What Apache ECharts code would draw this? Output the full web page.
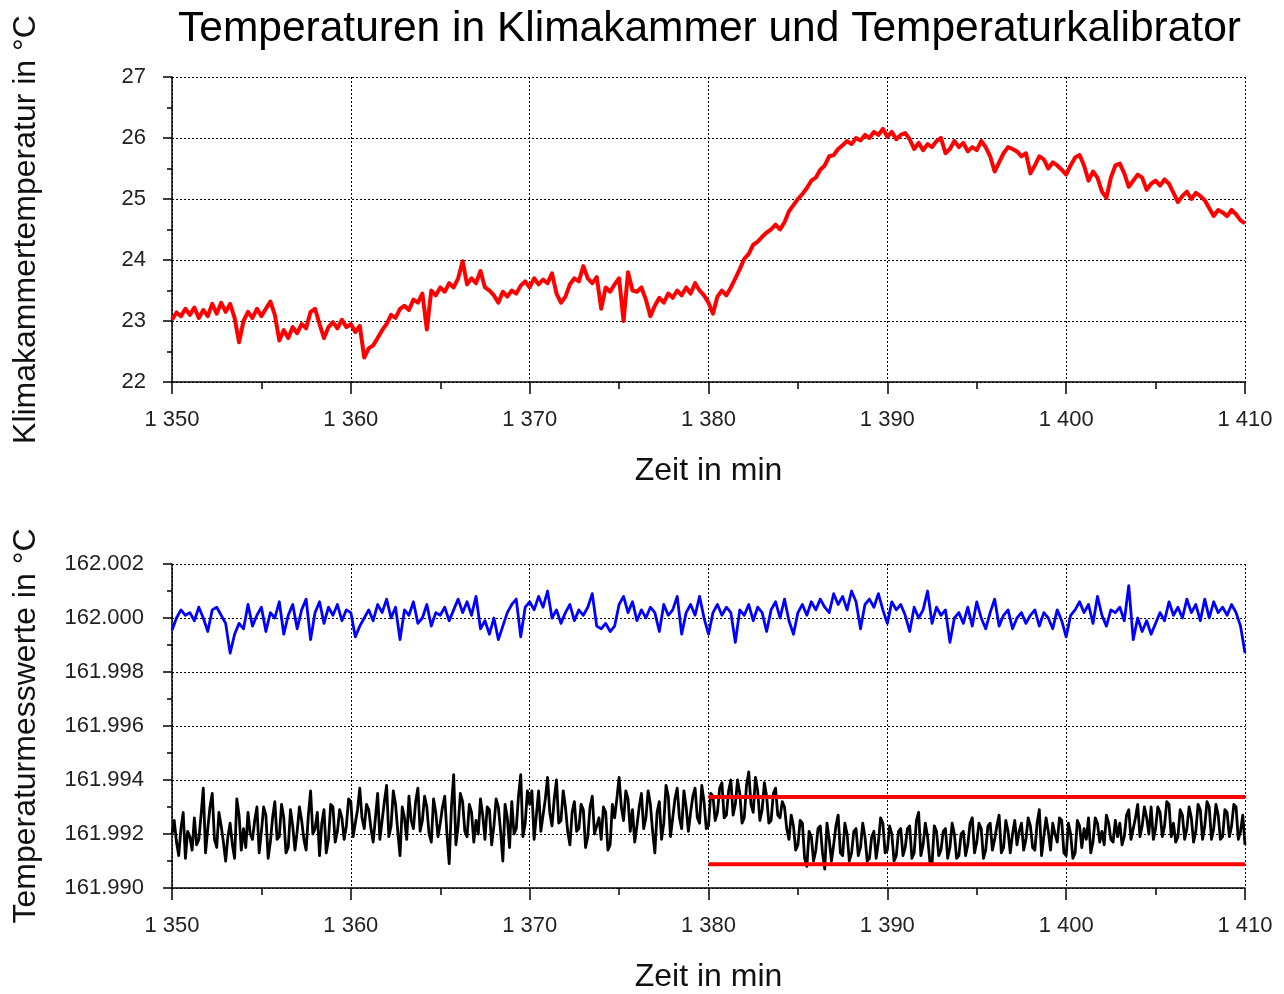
<!DOCTYPE html>
<html>
<head>
<meta charset="utf-8">
<script src="https://cdn.jsdelivr.net/npm/echarts@6/dist/echarts.min.js"></script>
<style>html,body{margin:0;padding:0;background:#fff}#c{width:1284px;height:994px}</style>
</head>
<body>
<div id="c"></div>
<script>
const tStart = 1350;
const tStep = 0.25;
const xTicks = [1350, 1360, 1370, 1380, 1390, 1400, 1410];
const yTopTicks = [22, 23, 24, 25, 26, 27];
const yBottomTicks = [161.990, 161.992, 161.994, 161.996, 161.998, 162.000, 162.002];

// Klimakammer temperature, samples every 0.25 min from 1350
const klima = [
23.02,23.14,23.08,23.2, 23.1,23.22,23.05,23.18, 23.08,23.28,23.12,23.3, 23.15,23.28,23.05,22.65,
23.0,23.15,23.05,23.2, 23.08,23.2,23.32,23.1, 22.68,22.85,22.72,22.9, 22.8,22.95,22.88,23.15,
23.2,22.95,22.72,22.9, 22.98,22.88,23.02,22.9, 22.95,22.82,22.92,22.4, 22.55,22.6,22.72,22.85,
22.95,23.1,23.05,23.2, 23.25,23.18,23.35,23.3, 23.45,22.86,23.5,23.42, 23.55,23.48,23.62,23.55,
23.7,23.98,23.6,23.7, 23.62,23.82,23.55,23.5, 23.42,23.3,23.48,23.4, 23.5,23.45,23.58,23.65,
23.55,23.7,23.6,23.68, 23.62,23.78,23.45,23.3, 23.4,23.6,23.7,23.65, 23.9,23.7,23.62,23.72,
23.2,23.55,23.48,23.6, 23.7,23.0,23.8,23.5, 23.48,23.55,23.35,23.08, 23.25,23.38,23.3,23.45,
23.38,23.5,23.42,23.55, 23.45,23.62,23.5,23.42, 23.3,23.12,23.4,23.5, 23.42,23.55,23.7,23.85,
24.02,24.1,24.25,24.3, 24.38,24.45,24.5,24.58, 24.5,24.62,24.8,24.9, 25.0,25.08,25.18,25.3,
25.35,25.48,25.55,25.7, 25.72,25.82,25.88,25.95, 25.9,26.0,25.96,26.05, 26.0,26.1,26.05,26.15,
26.02,26.1,25.98,26.05, 26.08,25.98,25.82,25.92, 25.8,25.9,25.85,25.95, 26.0,25.75,25.82,25.95,
25.85,25.92,25.78,25.85, 25.8,25.95,25.85,25.7, 25.45,25.6,25.75,25.85, 25.82,25.78,25.7,25.75,
25.42,25.55,25.7,25.65, 25.5,25.6,25.55,25.48, 25.4,25.55,25.68,25.72, 25.55,25.3,25.45,25.35,
25.12,25.02,25.35,25.55, 25.58,25.42,25.2,25.3, 25.4,25.35,25.15,25.25, 25.3,25.22,25.32,25.25,
25.1,24.95,25.05,25.12, 25.0,25.1,25.05,24.98, 24.85,24.72,24.82,24.78, 24.72,24.82,24.75,24.65,
24.6
];

// Calibrator reference (blue), samples every 0.25 min from 1350
const kalibBlue = [
161.99955,162.0000,162.0003,162.0001, 162.0002,161.9999,162.0004,162.0000, 161.9995,162.0003,162.0004,162.0001, 161.9998,161.9987,161.9994,161.9998,
161.9996,162.0005,161.9997,162.0001, 162.0004,161.9995,162.0002,162.0000, 162.0006,161.9994,162.0001,162.0005, 161.9996,162.0003,162.0007,161.9992,
162.0002,162.0006,161.9998,162.0004, 162.0001,162.0005,161.9999,162.0003, 162.0002,161.9993,161.9997,162.0000, 162.0003,161.9999,162.0005,162.0002,
162.0007,162.0000,162.0004,161.9992, 162.0003,162.0001,162.0006,161.9998, 162.0000,162.0005,161.9997,162.0002, 162.0001,162.0004,161.9999,162.0003,
162.0007,162.0002,162.0006,162.0001, 162.0008,161.9996,161.9999,161.9994, 162.0000,161.9992,161.9997,162.0002, 162.0005,162.0007,161.9993,162.0004,
162.0006,162.0003,162.0008,162.0004, 162.0010,162.0000,162.0003,161.9998, 162.0002,162.0005,161.9999,162.0003, 162.0001,162.0004,162.0009,161.9997,
161.9996,161.9998,161.9995,161.9997, 162.0005,162.0008,162.0002,162.0006, 161.9999,162.0003,162.0000,162.0004, 162.0002,161.9995,162.0005,162.0001,
162.0003,162.0008,161.9994,162.0002, 162.0005,162.0001,162.0008,162.0000, 161.9994,162.0002,162.0005,162.0001, 162.0004,162.0002,161.9991,162.0003,
162.0001,162.0005,161.9999,162.0004, 162.0002,161.9995,162.0003,162.0006, 162.0000,162.0007,161.9999,161.9994, 162.0002,162.0005,162.0001,162.0006,
162.0003,162.0007,162.0004,162.0002, 162.0009,162.0005,162.0008,162.0003, 162.0010,162.0006,161.9996,162.0005, 162.0007,162.0004,162.0009,162.0003,
161.9998,162.0006,162.0003,162.0005, 162.0001,161.9995,162.0004,162.0000, 162.0003,162.0010,161.9998,162.0004, 162.0001,162.0003,161.9991,162.0000,
162.0002,161.9998,162.0004,161.9997, 162.0006,162.0000,161.9996,162.0002, 162.0007,161.9997,162.0001,162.0003, 161.9996,162.0000,162.0002,161.9998,
162.0001,162.0003,161.9997,162.0002, 162.0000,161.9996,162.0003,161.9999, 161.9993,162.0001,162.0003,162.0006, 162.0002,162.0005,161.9998,162.0008,
162.0001,161.9997,162.0003,162.0002, 162.0004,161.9999,162.0012,161.9992, 162.0000,161.9995,161.9999,161.9994, 161.9998,162.0002,161.9999,162.0006,
162.0001,162.0004,162.0000,162.0007, 162.0002,162.0005,161.9999,162.0007, 162.0000,162.0006,162.0002,162.0004, 162.0001,162.0005,162.0002,161.9997,
161.9987
];

// Measured value (black), samples every 0.25 min from 1350
const kalibBlack = [
161.9920,161.9917,161.9922,161.9911, 161.9919,161.9926,161.9918,161.9937, 161.9922,161.9935,161.9915,161.9923, 161.9910,161.9924,161.9911,161.9927,
161.9922,161.9928,161.9918,161.9930, 161.9921,161.9927,161.9917,161.9932, 161.9919,161.9926,161.9915,161.9923, 161.9921,161.9925,161.9914,161.9936,
161.9922,161.9912,161.9929,161.9918, 161.9930,161.9921,161.9926,161.9923, 161.9932,161.9924,161.9937,161.9922, 161.9929,161.9917,161.9935,161.9925,
161.9938,161.9923,161.9931,161.9912, 161.9926,161.9934,161.9922,161.9937, 161.9925,161.9930,161.9917,161.9928, 161.9924,161.9934,161.9909,161.9942,
161.9923,161.9932,161.9919,161.9928, 161.9925,161.9933,161.9918,161.9929, 161.9923,161.9930,161.9910,161.9926, 161.9932,161.9922,161.9942,161.9924,
161.9931,161.9918,161.9936,161.9927, 161.9941,161.9923,161.9940,161.9925, 161.9930,161.9916,161.9932,161.9922, 161.9929,161.9919,161.9934,161.9923,
161.9918,161.9928,161.9916,161.9926, 161.9941,161.9925,161.9933,161.9929, 161.9923,161.9935,161.9926,161.9931, 161.9913,161.9932,161.9924,161.9934,
161.9926,161.9937,161.9922,161.9930, 161.9928,161.9937,161.9924,161.9932, 161.9923,161.9934,161.9928,161.9939, 161.9927,161.9940,161.9931,161.9935,
161.9926,161.9943,161.9928,161.9936, 161.9929,161.9934,161.9925,161.9937, 161.9926,161.9930,161.9918,161.9923, 161.9916,161.9924,161.9908,161.9919,
161.9914,161.9923,161.9907,161.9918, 161.9916,161.9927,161.9912,161.9920, 161.9913,161.9922,161.9915,161.9919, 161.9911,161.9921,161.9917,161.9924,
161.9914,161.9920,161.9912,161.9922, 161.9915,161.9923,161.9913,161.9928, 161.9916,161.9919,161.9909,161.9921, 161.9914,161.9922,161.9915,161.9920,
161.9912,161.9921,161.9916,161.9926, 161.9917,161.9922,161.9914,161.9924, 161.9918,161.9927,161.9915,161.9921, 161.9920,161.9916,161.9924,161.9918,
161.9923,161.9914,161.9929,161.9919, 161.9921,161.9924,161.9917,161.9925, 161.9912,161.9920,161.9913,161.9923, 161.9922,161.9926,161.9917,161.9924,
161.9921,161.9927,161.9918,161.9925, 161.9924,161.9919,161.9929,161.9922, 161.9931,161.9923,161.9926,161.9930, 161.9922,161.9928,161.9923,161.9931,
161.9924,161.9919,161.9927,161.9922, 161.9926,161.9921,161.9929,161.9923, 161.9930,161.9922,161.9927,161.9919, 161.9928,161.9923,161.9930,161.9921,
161.9916
];

// Measured value (black), extra samples in between (1350.125, 1350.375, ...)
const kalibBlackMid = [
161.9925,161.9912,161.9928,161.9921, 161.9914,161.9916,161.9927,161.9913, 161.9930,161.9918,161.9928,161.9917, 161.9919,161.9916,161.9933,161.9914,
161.9915,161.9920,161.9925,161.9913, 161.9930,161.9911,161.9926,161.9918, 161.9931,161.9913,161.9929,161.9914, 161.9930,161.9918,161.9927,161.9920,
161.9928,161.9924,161.9913,161.9931, 161.9917,161.9929,161.9918,161.9933, 161.9919,161.9929,161.9926,161.9931, 161.9922,161.9926,161.9918,161.9932,
161.9919,161.9936,161.9921,161.9930, 161.9918,161.9925,161.9932,161.9921, 161.9934,161.9920,161.9933,161.9919, 161.9930,161.9920,161.9930,161.9916,
161.9935,161.9921,161.9931,161.9917, 161.9920,161.9927,161.9930,161.9916, 161.9933,161.9921,161.9931,161.9915, 161.9920,161.9934,161.9919,161.9936,
161.9936,161.9927,161.9921,161.9933, 161.9928,161.9933,161.9924,161.9936, 161.9921,161.9928,161.9921,161.9931, 161.9915,161.9930,161.9920,161.9926,
161.9930,161.9914,161.9931,161.9933, 161.9930,161.9936,161.9921,161.9917, 161.9930,161.9922,161.9936,161.9921, 161.9928,161.9918,161.9938,161.9919,
161.9933,161.9926,161.9936,161.9921, 161.9934,161.9926,161.9938,161.9922, 161.9935,161.9925,161.9937,161.9926, 161.9936,161.9927,161.9940,161.9924,
161.9938,161.9931,161.9941,161.9925, 161.9939,161.9924,161.9935,161.9927, 161.9932,161.9922,161.9927,161.9914, 161.9925,161.9911,161.9921,161.9910,
161.9922,161.9913,161.9924,161.9910, 161.9923,161.9913,161.9924,161.9910, 161.9921,161.9912,161.9924,161.9910, 161.9919,161.9911,161.9926,161.9913,
161.9923,161.9910,161.9921,161.9912, 161.9922,161.9911,161.9925,161.9912, 161.9924,161.9910,161.9923,161.9912, 161.9921,161.9911,161.9924,161.9911,
161.9920,161.9912,161.9924,161.9913, 161.9924,161.9911,161.9923,161.9914, 161.9923,161.9913,161.9925,161.9913, 161.9925,161.9921,161.9914,161.9926,
161.9915,161.9924,161.9912,161.9926, 161.9914,161.9920,161.9926,161.9913, 161.9924,161.9911,161.9925,161.9915, 161.9918,161.9913,161.9926,161.9917,
161.9916,161.9924,161.9917,161.9919, 161.9916,161.9927,161.9918,161.9926, 161.9919,161.9930,161.9920,161.9918, 161.9930,161.9919,161.9932,161.9919,
161.9917,161.9929,161.9918,161.9930, 161.9917,161.9931,161.9918,161.9932, 161.9918,161.9931,161.9918,161.9929, 161.9919,161.9931,161.9918,161.9927
];

// Tolerance band (red lines) from 1380 to 1410
const limitTimes = [1380, 1410];
const limitUpper = 161.99337;
const limitLower = 161.99088;

const toXY = arr => arr.map((v, i) => [tStart + i * tStep, v]);
const interleave = (main, mid) => {
  const out = [];
  main.forEach((v, i) => {
    out.push([tStart + i * tStep, v]);
    if (i < mid.length) out.push([tStart + i * tStep + tStep / 2, mid[i]]);
  });
  return out;
};
const fmtX = v => { const s = String(Math.round(v)); return s.length > 3 ? s.slice(0, s.length - 3) + ' ' + s.slice(-3) : s; };

const FONT = 'Liberation Sans, Arial, Helvetica, sans-serif';
const GRID_LINE = { type: [2, 2], color: '#000', width: 1 };

function xAxisCfg(gi) {
  return {
    type: 'value', gridIndex: gi, min: xTicks[0], max: xTicks[xTicks.length - 1], interval: 10,
    axisLine: { lineStyle: { color: '#000', width: 1.5 } },
    axisTick: { length: 12, lineStyle: { color: '#000', width: 1.5 } },
    minorTick: { show: true, splitNumber: 2, length: 7, lineStyle: { color: '#000', width: 1.5 } },
    axisLabel: { fontSize: 22, color: '#222', margin: 27, formatter: fmtX, fontFamily: FONT },
    splitLine: { show: true, lineStyle: GRID_LINE },
    name: 'Zeit in min', nameLocation: 'middle', nameGap: 73,
    nameTextStyle: { fontSize: 32, color: '#111', fontFamily: FONT }
  };
}

function yAxisCfg(gi, ticks, name, fmt, margin) {
  return {
    type: 'value', gridIndex: gi, min: ticks[0], max: ticks[ticks.length - 1],
    interval: Math.round((ticks[1] - ticks[0]) * 1e6) / 1e6,
    axisLine: { show: true, lineStyle: { color: '#000', width: 1.5 } },
    axisTick: { show: true, length: 9, lineStyle: { color: '#000', width: 1.5 } },
    minorTick: { show: true, splitNumber: 2, length: 5, lineStyle: { color: '#000', width: 1.5 } },
    axisLabel: { fontSize: 22, color: '#222', margin: margin, formatter: fmt, fontFamily: FONT },
    splitLine: { show: true, lineStyle: GRID_LINE },
    name: name, nameLocation: 'middle', nameGap: 130,
    nameTextStyle: { fontSize: 32, color: '#111', fontFamily: FONT }
  };
}

const chart = echarts.init(document.getElementById('c'), null, { renderer: 'canvas' });
chart.setOption({
  animation: false,
  backgroundColor: '#fff',
  textStyle: { fontFamily: FONT },
  title: {
    text: 'Temperaturen in Klimakammer und Temperaturkalibrator',
    left: 178, top: 8, padding: 0,
    textStyle: { fontSize: 42.5, fontWeight: 'normal', color: '#000', fontFamily: FONT }
  },
  grid: [
    { left: 172, top: 77, width: 1073, height: 305, containLabel: false },
    { left: 172, top: 564, width: 1073, height: 328, containLabel: false }
  ],
  xAxis: [xAxisCfg(0), xAxisCfg(1)],
  yAxis: [
    yAxisCfg(0, yTopTicks, 'Klimakammertemperatur in °C', v => String(Math.round(v)), 26),
    yAxisCfg(1, yBottomTicks, 'Temperaturmesswerte in °C', v => v.toFixed(3), 28)
  ],
  series: [
    { type: 'line', xAxisIndex: 0, yAxisIndex: 0, data: toXY(klima), showSymbol: false, symbol: 'none',
      lineStyle: { color: '#ff0000', width: 4, join: 'round' }, z: 3 },
    { type: 'line', xAxisIndex: 1, yAxisIndex: 1, data: toXY(kalibBlue), showSymbol: false, symbol: 'none',
      lineStyle: { color: '#0000ff', width: 2.8, join: 'round' }, z: 3 },
    { type: 'line', xAxisIndex: 1, yAxisIndex: 1, data: interleave(kalibBlack, kalibBlackMid), showSymbol: false, symbol: 'none',
      lineStyle: { color: '#000000', width: 2.8, join: 'round' }, z: 3 },
    { type: 'line', xAxisIndex: 1, yAxisIndex: 1, data: limitTimes.map(t => [t, limitUpper]), showSymbol: false, symbol: 'none',
      lineStyle: { color: '#ff0000', width: 4 }, z: 4 },
    { type: 'line', xAxisIndex: 1, yAxisIndex: 1, data: limitTimes.map(t => [t, limitLower]), showSymbol: false, symbol: 'none',
      lineStyle: { color: '#ff0000', width: 4 }, z: 4 }
  ]
});
</script>
</body>
</html>
